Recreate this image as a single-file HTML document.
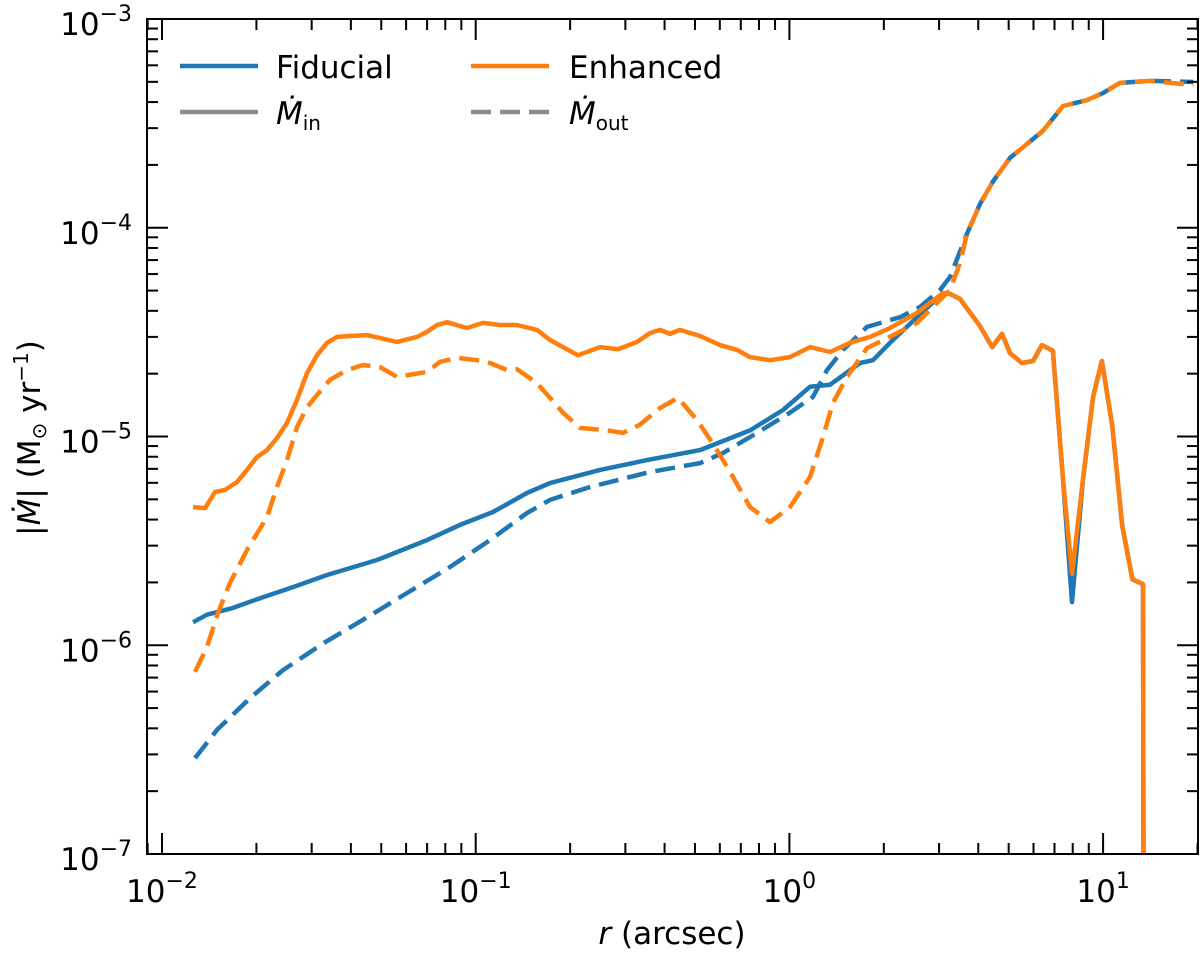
<!DOCTYPE html>
<html><head><meta charset="utf-8"><style>
html,body{margin:0;padding:0;background:#fff;overflow:hidden;width:1200px;height:954px;}
svg{display:block;}
svg text{font-family:"DejaVu Sans","Liberation Sans",sans-serif;fill:#000;}
</style></head><body>
<svg id="chart" width="1200" height="954" viewBox="0 0 1200 954" xmlns="http://www.w3.org/2000/svg">
<defs><clipPath id="plotclip"><rect x="147" y="19" width="1051" height="835"/></clipPath></defs>
<g id="series" clip-path="url(#plotclip)"></g>
<g id="axes"></g>
<g id="legend">
  <line x1="180" y1="66" x2="258" y2="66" stroke="#1f77b4" stroke-width="4.5"/>
  <text x="276" y="78" font-size="31">Fiducial</text>
  <line x1="471" y1="66" x2="549" y2="66" stroke="#ff7f0e" stroke-width="4.5"/>
  <text x="569" y="78" font-size="31">Enhanced</text>
  <line x1="180" y1="112" x2="258" y2="112" stroke="#8c8c8c" stroke-width="4.5"/>
  <text x="276" y="124" font-size="31" font-style="italic">Ṁ<tspan font-style="normal" font-size="20" dy="6">in</tspan></text>
  <line x1="471" y1="112" x2="549" y2="112" stroke="#8c8c8c" stroke-width="4.5" stroke-dasharray="20,9"/>
  <text x="569" y="124" font-size="31" font-style="italic">Ṁ<tspan font-style="normal" font-size="20" dy="6">out</tspan></text>
</g>
<text x="672" y="944" font-size="31" text-anchor="middle"><tspan font-style="italic">r</tspan> (arcsec)</text>
<g transform="translate(40,438) rotate(-90)">
  <text x="0" y="0" font-size="31" text-anchor="middle">|<tspan font-style="italic">Ṁ</tspan>| (M<tspan font-size="20" dy="6">⊙</tspan><tspan dy="-6"> yr</tspan><tspan font-size="20" dy="-12">−1</tspan><tspan dy="12">)</tspan></text>
</g>
</svg>
<script>
// ---- data ----
const fidInR = [0.01256,0.01391,0.01684,0.02053,0.02616,0.03357,0.04846,0.06996,0.08913,0.1135,0.1457,0.1725,0.249,0.3517,0.5188,0.7487,0.9542,1.163,1.348,1.679,1.847,2.093,2.552,3.088,3.251,3.499,4.05,4.43,4.76,5.05,5.51,5.98,6.38,6.92,7.45,7.96,8.63,9.29,9.91,10.7,11.5,12.4,13.4,13.45];
const fidInM = [1.29e-6,1.40e-6,1.51e-6,1.68e-6,1.90e-6,2.17e-6,2.56e-6,3.19e-6,3.77e-6,4.35e-6,5.36e-6,5.98e-6,6.92e-6,7.71e-6,8.61e-6,1.07e-5,1.34e-5,1.73e-5,1.77e-5,2.25e-5,2.32e-5,2.81e-5,3.73e-5,4.87e-5,4.82e-5,4.56e-5,3.38e-5,2.68e-5,3.10e-5,2.51e-5,2.25e-5,2.30e-5,2.74e-5,2.57e-5,6.25e-6,1.61e-6,6.25e-6,1.55e-5,2.30e-5,1.12e-5,3.77e-6,2.07e-6,1.96e-6,9e-8];
const fidOutR = [0.01274,0.01497,0.01908,0.02431,0.03261,0.04503,0.0604,0.08281,0.1111,0.1457,0.1725,0.2314,0.3594,0.5188,0.6143,0.7883,1.004,1.189,1.318,1.482,1.768,2.253,2.608,3.02,3.251,3.68,4.05,4.46,5.05,6.43,7.45,8.89,10,11.3,14.1,19.4];
const fidOutM = [2.88e-7,3.93e-7,5.58e-7,7.60e-7,1.02e-6,1.36e-6,1.78e-6,2.37e-6,3.19e-6,4.30e-6,4.97e-6,5.73e-6,6.76e-6,7.46e-6,8.34e-6,1.04e-5,1.30e-5,1.55e-5,2.08e-5,2.60e-5,3.35e-5,3.73e-5,4.17e-5,5.03e-5,5.81e-5,9.33e-5,1.30e-4,1.67e-4,2.16e-4,2.91e-4,3.83e-4,4.09e-4,4.42e-4,4.94e-4,5.05e-4,4.99e-4];
const enhInR = [0.01256,0.01372,0.01476,0.01588,0.01734,0.01866,0.02009,0.02161,0.02326,0.02503,0.02694,0.02899,0.0312,0.03357,0.03614,0.03975,0.04503,0.04954,0.05612,0.06501,0.06996,0.07527,0.081,0.09383,0.1055,0.1195,0.1354,0.1568,0.1725,0.2119,0.249,0.2842,0.3268,0.3594,0.3868,0.4164,0.4481,0.5188,0.6009,0.6808,0.7487,0.8675,1.004,1.163,1.348,1.56,1.807,2.093,2.552,3.088,3.251,3.499,4.05,4.43,4.76,5.05,5.51,5.98,6.38,6.92,7.45,7.96,8.63,9.29,9.91,10.7,11.5,12.4,13.4,13.45];
const enhInM = [4.59e-6,4.54e-6,5.42e-6,5.55e-6,6.05e-6,6.92e-6,7.98e-6,8.61e-6,9.84e-6,1.16e-5,1.50e-5,2.01e-5,2.45e-5,2.81e-5,3.00e-5,3.03e-5,3.06e-5,2.96e-5,2.84e-5,3.00e-5,3.17e-5,3.42e-5,3.53e-5,3.31e-5,3.50e-5,3.42e-5,3.42e-5,3.24e-5,2.90e-5,2.45e-5,2.68e-5,2.62e-5,2.84e-5,3.13e-5,3.24e-5,3.10e-5,3.24e-5,3.03e-5,2.74e-5,2.60e-5,2.40e-5,2.32e-5,2.40e-5,2.68e-5,2.54e-5,2.81e-5,3.00e-5,3.31e-5,3.91e-5,4.87e-5,4.82e-5,4.56e-5,3.38e-5,2.68e-5,3.10e-5,2.51e-5,2.25e-5,2.30e-5,2.74e-5,2.57e-5,6.25e-6,2.2e-6,6.25e-6,1.55e-5,2.30e-5,1.12e-5,3.77e-6,2.07e-6,1.96e-6,9e-8];
const enhOutR = [0.01274,0.01391,0.01508,0.01647,0.01866,0.02161,0.02326,0.02503,0.02694,0.02899,0.0312,0.03431,0.03889,0.04373,0.04954,0.05612,0.06996,0.07695,0.08718,0.101,0.1111,0.1259,0.1354,0.1568,0.1725,0.1898,0.215,0.2621,0.2948,0.3341,0.3868,0.4416,0.5076,0.5877,0.6611,0.7487,0.8675,1.004,1.163,1.28,1.377,1.526,1.768,2.14,2.552,3.02,3.251,3.499,3.68,4.05,4.46,5.05,6.43,7.45,8.89,10,11.3,14.1,19.4];
const enhOutM = [7.45e-7,9.81e-7,1.43e-6,1.99e-6,2.86e-6,4.11e-6,5.73e-6,7.71e-6,1.11e-5,1.38e-5,1.58e-5,1.87e-5,2.08e-5,2.20e-5,2.15e-5,1.93e-5,2.04e-5,2.28e-5,2.38e-5,2.32e-5,2.25e-5,2.08e-5,2.10e-5,1.80e-5,1.53e-5,1.30e-5,1.10e-5,1.07e-5,1.04e-5,1.14e-5,1.37e-5,1.53e-5,1.20e-5,8.61e-6,6.40e-6,4.59e-6,3.89e-6,4.59e-6,6.40e-6,9.95e-6,1.45e-5,1.93e-5,2.65e-5,3.06e-5,3.50e-5,4.51e-5,5.03e-5,6.78e-5,9.33e-5,1.30e-4,1.67e-4,2.16e-4,2.91e-4,3.83e-4,4.09e-4,4.42e-4,4.94e-4,5.05e-4,4.83e-4];
const xTickExps = [-2,-1,0,1];
const yTickExps = [-7,-6,-5,-4,-3];

// ---- axes ----
const X0=147,X1=1198,Y0=19,Y1=854;
const decX=313.7, yDec=208.75;
function xs(r){return 162+(Math.log10(r)+2)*decX;}
function ys(m){return Y0+(-3-Math.log10(m))*yDec;}
const NS='http://www.w3.org/2000/svg';
function mk(tag,attrs,parent){const e=document.createElementNS(NS,tag);for(const k in attrs)e.setAttribute(k,attrs[k]);parent.appendChild(e);return e;}

const sg=document.getElementById('series');
function drawLine(R,M,color,dash,name){
  let d='';
  for(let i=0;i<R.length;i++){d+=(i?'L':'M')+xs(R[i]).toFixed(1)+','+ys(M[i]).toFixed(1);}
  const p=mk('path',{d:d,fill:'none',stroke:color,'stroke-width':4.5,'stroke-linejoin':'round'},sg);
  if(dash)p.setAttribute('stroke-dasharray','20,9');
  
  
}
drawLine(fidInR,fidInM,'#1f77b4',false,'fiducial-inflow-line');
drawLine(fidOutR,fidOutM,'#1f77b4',true,'fiducial-outflow-line');
drawLine(enhInR,enhInM,'#ff7f0e',false,'enhanced-inflow-line');
drawLine(enhOutR,enhOutM,'#ff7f0e',true,'enhanced-outflow-line');

const ax=document.getElementById('axes');
const frame=mk('rect',{x:X0,y:Y0,width:X1-X0,height:Y1-Y0,fill:'none',stroke:'#000','stroke-width':2},ax);


for(let e=-3;e<=1;e++){
  for(let k=1;k<10;k++){
    const r=k*Math.pow(10,e);const x=xs(r);
    if(x<X0||x>X1)continue;
    const L=(k===1)?21:11;
    mk('line',{x1:x,y1:Y1,x2:x,y2:Y1-L,stroke:'#000','stroke-width':2},ax);
    mk('line',{x1:x,y1:Y0,x2:x,y2:Y0+L,stroke:'#000','stroke-width':2},ax);
  }
}
xTickExps.forEach(e=>{
  const x=xs(Math.pow(10,e));
  const t=mk('text',{x:x,y:902,'font-size':31,'text-anchor':'middle'},ax);
  t.innerHTML='10<tspan font-size="22" dy="-14">'+(e<0?'−'+(-e):e)+'</tspan>';
  
  
});
for(let e=-7;e<=-3;e++){
  for(let k=1;k<10;k++){
    const m=k*Math.pow(10,e);const y=ys(m);
    if(y<Y0-1||y>Y1+1)continue;
    const L=(k===1)?21:11;
    mk('line',{x1:X0,y1:y,x2:X0+L,y2:y,stroke:'#000','stroke-width':2},ax);
    mk('line',{x1:X1,y1:y,x2:X1-L,y2:y,stroke:'#000','stroke-width':2},ax);
  }
}
yTickExps.forEach(e=>{
  const y=ys(Math.pow(10,e));
  const t=mk('text',{x:132,y:y+16,'font-size':31,'text-anchor':'end'},ax);
  t.innerHTML='10<tspan font-size="22" dy="-14">−'+(-e)+'</tspan>';
  
  
});
</script>
</body></html>
